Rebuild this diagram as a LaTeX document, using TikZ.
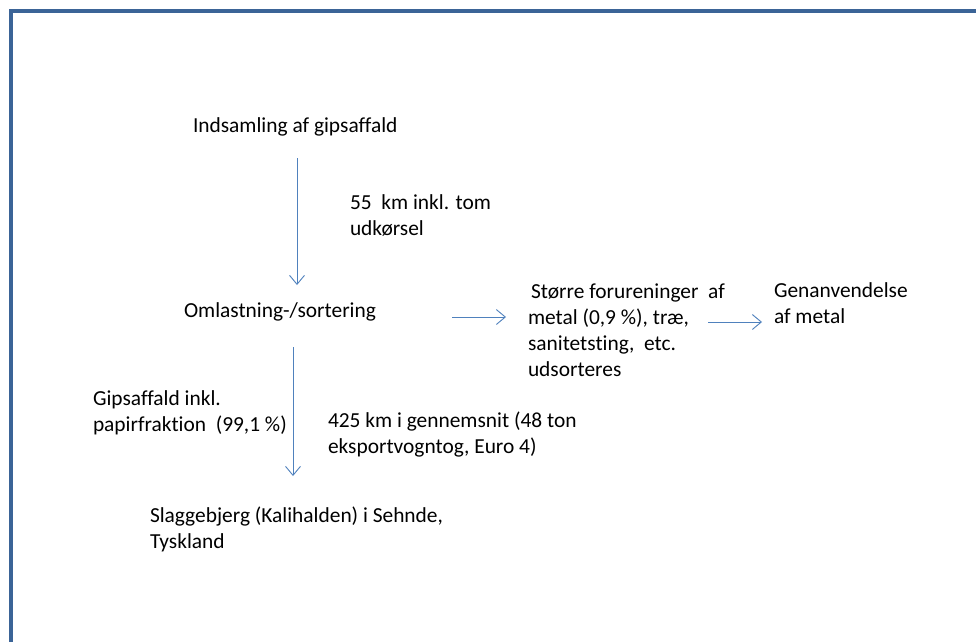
\documentclass[tikz,border=0pt]{standalone}
\usepackage{fontspec}
\setmainfont{Carlito}[Ligatures=NoCommon]
\usetikzlibrary{arrows.meta}
\definecolor{framecol}{HTML}{3B6497}
\definecolor{flowcol}{HTML}{4F81BD}
\tikzset{
  % multi-line labels are placed by the baseline of their last line
  lbl/.style={anchor=base west, inner sep=0pt, outer sep=0pt, align=left,
    font=\fontsize{21.4}{26}\selectfont, text=black},
  flow/.style={draw=flowcol, line width=0.9pt,
    -{Straight Barb[length=9pt,width=15pt,line width=0.9pt]}},
  frameline/.style={draw=framecol, line width=3.2pt}
}
\begin{document}
\begin{tikzpicture}[x=1pt,y=-1pt]
  \useasboundingbox (0,0) rectangle (976,641);
  \fill[white] (0,0) rectangle (976,641);
  % outer frame, only its left and top sides lie in view
  \coordinate (fbl) at (11,645);
  \coordinate (ftl) at (11,11);
  \coordinate (ftr) at (980,11);
  \draw[frameline] (fbl) -- (ftl) -- (ftr);

  % texts
  \node[lbl] (collect) at (193,132) {Indsamling af gipsaffald};
  \node[lbl] (leg1) at (350,235) {55~ km inkl. tom\\udkørsel};
  \node[lbl] (sort) at (184,317) {Omlastning-/sortering};
  \node[lbl] (remove) at (531,376) {Større forureninger~ af\\\hspace{-3pt}metal (0,9 \%), træ,\\\hspace{-3pt}sanitetsting,~ etc.\\\hspace{-3pt}udsorteres};
  \node[lbl] (reuse) at (774,323) {Genanvendelse\\af metal};
  \node[lbl] (frac) at (93,431) {Gipsaffald inkl.\\papirfraktion~ (99,1 \%)};
  \node[lbl] (leg2) at (328,453) {425 km i gennemsnit (48 ton\\eksportvogntog, Euro 4)};
  \node[lbl] (dump) at (150,548) {Slaggebjerg (Kalihalden) i Sehnde,\\Tyskland};

  % arrow end points
  \coordinate (a1s) at (297,158);
  \coordinate (a1e) at (297,285);
  \coordinate (a2s) at (452,317);
  \coordinate (a2e) at (506,317);
  \coordinate (a3s) at (708,322);
  \coordinate (a3e) at (762,322);
  \coordinate (a4s) at (293,347);
  \coordinate (a4e) at (293,476);

  \draw[flow] (a1s) -- (a1e);
  \draw[flow] (a2s) -- (a2e);
  \draw[flow] (a3s) -- (a3e);
  \draw[flow] (a4s) -- (a4e);
\end{tikzpicture}
\end{document}
